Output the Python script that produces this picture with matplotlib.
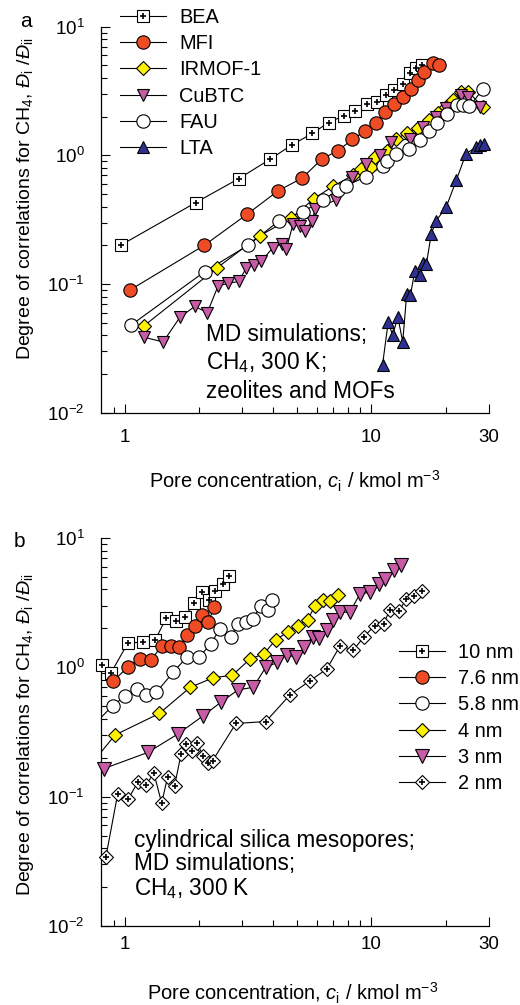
import matplotlib
matplotlib.use('Agg')
import matplotlib.pyplot as plt
from matplotlib.lines import Line2D
from matplotlib.ticker import FixedLocator, FixedFormatter, NullFormatter, LogLocator, LogFormatterSciNotation

plt.rcParams['font.family'] = ['Liberation Sans', 'DejaVu Sans']
plt.rcParams['mathtext.fontset'] = 'custom'
plt.rcParams['mathtext.rm'] = 'Liberation Sans'
plt.rcParams['mathtext.it'] = 'Liberation Sans:italic'
plt.rcParams['mathtext.bf'] = 'Liberation Sans:bold'
plt.rcParams['axes.unicode_minus'] = False

# ---------------- data: panel a (zeolites and MOFs) ----------------
bea_x = [0.96, 1.94, 2.90, 3.87, 4.77, 5.76, 6.70, 7.72, 8.61, 9.63, 10.5, 11.5, 12.4, 13.4, 14.3, 15.2, 16.1]
bea_y = [0.20, 0.43, 0.66, 0.93, 1.21, 1.48, 1.80, 2.03, 2.22, 2.50, 2.61, 2.96, 3.22, 3.61, 4.35, 4.75, 5.0]

mfi_x = [1.05, 2.10, 3.14, 4.18, 5.23, 6.31, 7.33, 8.37, 9.40, 10.4, 11.4, 12.4, 13.4, 14.5, 15.5, 16.4, 17.8, 18.8]
mfi_y = [0.090, 0.20, 0.35, 0.53, 0.665, 0.94, 1.09, 1.33, 1.54, 1.77, 2.16, 2.50, 2.86, 3.28, 3.85, 4.48, 5.2, 5.05]

irmof_x = [1.19, 2.37, 3.52, 4.74, 5.84, 6.99, 8.42, 9.1, 10.0, 10.3, 11.6, 12.6, 13.9, 15.4, 17.2, 18.6, 20.1, 21.5, 23.2, 24.7, 28.3]
irmof_y = [0.047, 0.134, 0.237, 0.326, 0.46, 0.576, 0.70, 0.79, 0.81, 0.97, 1.09, 1.35, 1.48, 1.62, 1.88, 2.14, 2.38, 2.7, 3.12, 3.12, 2.38]

cubtc_x = [1.20, 1.43, 1.67, 1.92, 2.16, 2.39, 2.62, 2.90, 3.11, 3.34, 3.58, 3.99, 4.32, 4.52, 4.81, 5.12, 5.37,
           5.76, 5.90, 7.17, 8.37, 9.48, 10.8, 12.0, 14.3, 16.2, 18.3, 20.1, 23.2, 24.7, 27.5]
cubtc_y = [0.0385, 0.0355, 0.055, 0.067, 0.060, 0.097, 0.101, 0.105, 0.134, 0.141, 0.151, 0.192, 0.204, 0.187, 0.293,
           0.284, 0.26, 0.31, 0.383, 0.45, 0.68, 0.86, 1.0, 1.27, 1.35, 1.66, 1.99, 2.32, 2.94, 2.85, 2.38]

fau_x = [1.06, 2.11, 3.16, 4.22, 5.28, 6.37, 7.33, 7.87, 9.48, 11.1, 11.6, 12.6, 14.2, 15.7, 17.2, 18.5, 20.3, 22.3, 23.5, 25.0, 28.3]
fau_y = [0.048, 0.125, 0.20, 0.31, 0.365, 0.45, 0.54, 0.58, 0.68, 0.83, 0.90, 1.02, 1.13, 1.31, 1.54, 1.79, 2.08, 2.48, 2.45, 2.40, 3.26]

lta_x = [11.1, 11.7, 12.2, 12.8, 13.4, 13.9, 14.4, 15.0, 15.7, 16.2, 16.7, 17.5, 18.3, 20.1, 22.1, 24.2, 26.6, 27.5, 28.7]
lta_y = [0.0236, 0.0507, 0.040, 0.0555, 0.0355, 0.083, 0.082, 0.126, 0.118, 0.147, 0.142, 0.245, 0.31, 0.395, 0.64,
         1.03, 1.16, 1.20, 1.23]

labels_a = ['BEA', 'MFI', 'IRMOF-1', 'CuBTC', 'FAU', 'LTA']

# ---------------- data: panel b (cylindrical silica mesopores) ----------------
nm10_x = [0.807, 0.878, 1.03, 1.18, 1.33, 1.47, 1.61, 1.76, 1.90, 2.05, 2.20, 2.32, 2.49, 2.65]
nm10_y = [1.04, 0.905, 1.55, 1.56, 1.64, 2.40, 2.30, 2.47, 3.16, 3.81, 3.29, 3.86, 4.38, 5.05]

nm76_x = [0.896, 1.025, 1.15, 1.28, 1.41, 1.54, 1.66, 1.78, 1.92, 2.05, 2.18, 2.30]
nm76_y = [0.78, 1.0, 1.17, 1.14, 1.47, 1.45, 1.43, 1.79, 2.07, 2.52, 2.23, 2.92]

nm58_x = [0.75, 0.891, 1.003, 1.115, 1.22, 1.34, 1.57, 1.78, 2.0, 2.23, 2.43, 2.69, 2.87, 3.10, 3.30, 3.56, 3.79, 3.97]
nm58_y = [0.36, 0.505, 0.60, 0.68, 0.614, 0.64, 0.915, 1.195, 1.195, 1.52, 1.98, 1.73, 2.17, 2.23, 2.37, 3.0, 2.79, 3.29]

nm4_x = [0.75, 0.913, 1.38, 1.84, 2.28, 2.73, 3.22, 3.66, 4.10, 4.57, 5.02, 5.51, 5.91, 6.34, 6.78, 7.33]
nm4_y = [0.19, 0.30, 0.44, 0.70, 0.83, 0.87, 1.16, 1.27, 1.64, 1.87, 2.10, 2.33, 3.0, 3.29, 3.23, 3.6]

nm3_x = [0.824, 1.24, 1.64, 2.07, 2.46, 2.88, 3.31, 3.73, 4.14, 4.54, 4.94, 5.34, 5.77, 6.14, 6.59, 7.01, 7.45,
         8.18, 8.99, 9.86, 10.7, 11.4, 12.3, 13.2]
nm3_y = [0.165, 0.22, 0.305, 0.42, 0.54, 0.67, 0.70, 1.0, 1.09, 1.25, 1.2, 1.43, 1.73, 1.69, 1.95, 2.33, 2.67,
         2.67, 3.70, 3.81, 4.43, 4.84, 5.62, 6.14]

nm2_x = [0.837, 0.934, 1.03, 1.13, 1.22, 1.31, 1.41, 1.49, 1.59, 1.69, 1.77, 1.87, 1.97, 2.07, 2.17, 2.27, 2.82,
         3.73, 4.68, 5.65, 6.59, 7.47, 8.44, 9.35, 10.3, 11.2, 11.9, 13.0, 13.8, 14.9, 16.0]
nm2_y = [0.034, 0.104, 0.0955, 0.13, 0.123, 0.153, 0.089, 0.142, 0.121, 0.213, 0.255, 0.226, 0.259, 0.207, 0.183,
         0.19, 0.368, 0.381, 0.614, 0.79, 0.97, 1.47, 1.36, 1.73, 2.10, 2.17, 2.79, 2.72, 3.39, 3.53, 3.88]

labels_b = ['10 nm', '7.6 nm', '5.8 nm', '4 nm', '3 nm', '2 nm']

x_major = [1, 10, 30]
x_major_labels = ['1', '10', '30']
x_minor = [0.9, 2, 3, 4, 5, 6, 7, 8, 9, 20]

# ---------------- styling ----------------
RED = '#EF4B24'
YELLOW = '#FFF200'
MAGENTA = '#C85BA6'
BLUE = '#2E3192'

W, H = 520, 1005
fig = plt.figure(figsize=(W / 100, H / 100), dpi=100)


def fx(px):
    return px / W


def fy(py):
    return 1 - py / H


XMIN, XMAX = 0.8, 30
ax_a = fig.add_axes([fx(101), fy(412.7), (489 - 101) / W, (412.7 - 26.7) / H])
ax_b = fig.add_axes([fx(101), fy(926), (489 - 101) / W, (926 - 538) / H])


def draw(ax, x, y, marker, ms, mfc, plus=False):
    ax.plot(x, y, '-', color='k', lw=0.8, zorder=2)
    xs = [a for a in x if a >= XMIN * 0.995]
    ys = [b for a, b in zip(x, y) if a >= XMIN * 0.995]
    ax.plot(xs, ys, ls='none', marker=marker, ms=ms, mfc=mfc, mec='k', mew=0.8, clip_on=False, zorder=3)
    h1 = Line2D([], [], color='k', lw=0.8, marker=marker, ms=ms, mfc=mfc, mec='k', mew=0.8)
    if plus:
        ax.plot(xs, ys, ls='none', marker='+', ms=4.2, mew=1.2, color='k', clip_on=False, zorder=3)
        h2 = Line2D([], [], ls='none', marker='+', ms=4.2, mew=1.2, color='k')
        return (h1, h2)
    return h1


series_a = [
    (bea_x, bea_y, 's', 8.2, 'white', True),
    (mfi_x, mfi_y, 'o', 9.6, RED, False),
    (irmof_x, irmof_y, 'D', 6.9, YELLOW, False),
    (cubtc_x, cubtc_y, 'v', 9.2, MAGENTA, False),
    (fau_x, fau_y, 'o', 9.6, 'white', False),
    (lta_x, lta_y, '^', 9.2, BLUE, False),
]
series_b = [
    (nm10_x, nm10_y, 's', 8.6, 'white', True),
    (nm76_x, nm76_y, 'o', 9.6, RED, False),
    (nm58_x, nm58_y, 'o', 9.6, 'white', False),
    (nm4_x, nm4_y, 'D', 7.4, YELLOW, False),
    (nm3_x, nm3_y, 'v', 9.6, MAGENTA, False),
    (nm2_x, nm2_y, 'D', 6.9, 'white', True),
]

handles_a = [draw(ax_a, *s) for s in series_a]
handles_b = [draw(ax_b, *s) for s in series_b]

for ax, pad_x in ((ax_a, 11.5), (ax_b, 7.5)):
    ax.set_xscale('log')
    ax.set_yscale('log')
    ax.set_xlim(XMIN, XMAX)
    ax.set_ylim(0.01, 10)
    for sp in ('top', 'right'):
        ax.spines[sp].set_visible(False)
    for sp in ('left', 'bottom'):
        ax.spines[sp].set_linewidth(0.9)
    ax.xaxis.set_major_locator(FixedLocator(x_major))
    ax.xaxis.set_major_formatter(FixedFormatter(x_major_labels))
    ax.xaxis.set_minor_locator(FixedLocator(x_minor))
    ax.xaxis.set_minor_formatter(NullFormatter())
    ax.yaxis.set_major_locator(LogLocator(base=10, numticks=10))
    ax.yaxis.set_major_formatter(LogFormatterSciNotation())
    ax.yaxis.set_minor_locator(LogLocator(base=10, subs=range(2, 10), numticks=20))
    ax.yaxis.set_minor_formatter(NullFormatter())
    ax.tick_params(which='both', direction='in', width=0.8, labelsize=13.5)
    ax.tick_params(which='major', length=6.5)
    ax.tick_params(which='minor', length=4.5)
    ax.tick_params(axis='x', which='major', pad=pad_x)
    ax.tick_params(axis='y', which='major', pad=12)

leg_kw = dict(frameon=False, fontsize=14.4, handlelength=2.3, handletextpad=0.65, labelspacing=0.36,
              borderpad=0, borderaxespad=0, numpoints=1, loc='center left')
ax_a.legend(handles_a, labels_a, bbox_to_anchor=(fx(120), fy(83)), bbox_transform=fig.transFigure, **leg_kw)
ax_b.legend(handles_b, labels_b, bbox_to_anchor=(fx(399), fy(718)), bbox_transform=fig.transFigure, **leg_kw)

ylabel = r"Degree of correlations for CH$_4$, $\mathit{Đ}_\mathrm{i}$ /$\mathit{Đ}_\mathrm{ii}$"
xlabel = r"Pore concentration, $c_\mathrm{i}$ / kmol m$^{-3}$"
fig.text(fx(26), fy(199), ylabel, rotation=90, ha='center', va='center', fontsize=14)
fig.text(fx(26), fy(735), ylabel, rotation=90, ha='center', va='center', fontsize=14)
fig.text(fx(295), fy(488), xlabel, ha='center', va='baseline', fontsize=14.4)
fig.text(fx(293), fy(1000), xlabel, ha='center', va='baseline', fontsize=14.4)

fig.text(fx(20), fy(27), 'a', ha='left', va='baseline', fontsize=15)
fig.text(fx(14), fy(547), 'b', ha='left', va='baseline', fontsize=15)

ann = 16.3
fig.text(fx(206), fy(341), 'MD simulations;', fontsize=ann, va='baseline')
fig.text(fx(206), fy(369.5), r'CH$_4$, 300 K;', fontsize=ann, va='baseline')
fig.text(fx(206), fy(398), 'zeolites and MOFs', fontsize=ann, va='baseline')

fig.text(fx(134), fy(846.7), 'cylindrical silica mesopores;', fontsize=ann, va='baseline')
fig.text(fx(134), fy(870), 'MD simulations;', fontsize=ann, va='baseline')
fig.text(fx(134), fy(895), r'CH$_4$, 300 K', fontsize=ann, va='baseline')

fig.savefig('out.png', dpi=100)
